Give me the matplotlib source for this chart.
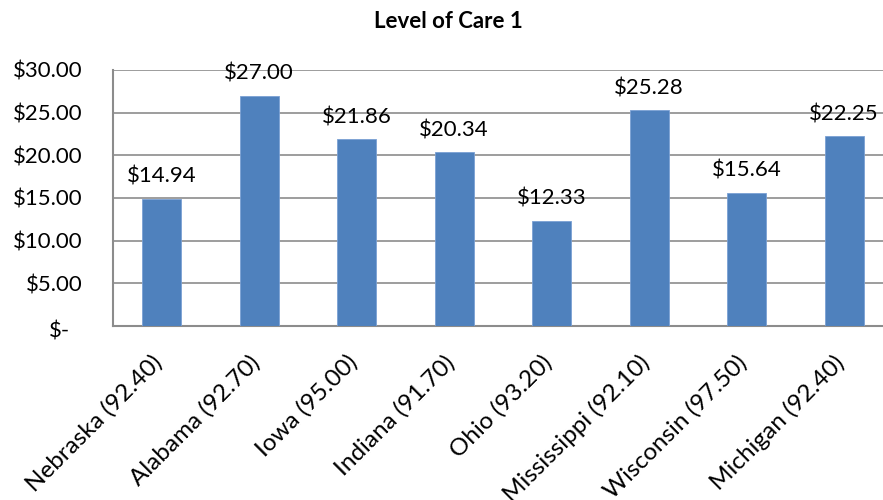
import matplotlib
matplotlib.use("Agg")
import matplotlib.pyplot as plt
from matplotlib.transforms import ScaledTranslation

categories = ["Nebraska (92.40)", "Alabama (92.70)", "Iowa (95.00)", "Indiana (91.70)",
              "Ohio (93.20)", "Mississippi (92.10)", "Wisconsin (97.50)", "Michigan (92.40)"]
values = [14.94, 27.00, 21.86, 20.34, 12.33, 25.28, 15.64, 22.25]
yticks = [0, 5, 10, 15, 20, 25, 30]
ytick_labels = ["$-", "$5.00", "$10.00", "$15.00", "$20.00", "$25.00", "$30.00"]
title = "Level of Care 1"

plt.rcParams['font.family'] = ['Lato', 'DejaVu Sans']

fig = plt.figure(figsize=(8.83, 5.0), dpi=100)
ax = fig.add_axes([113/883, 174/500, 780/883, 256/500])

x = list(range(len(categories)))
ax.bar(x, values, width=0.4, color='#4F81BD', edgecolor='#7aa0d4', linewidth=0.6, zorder=3)
ax.set_xlim(-0.5, len(categories) - 0.5)
ax.set_ylim(0, 30)
ax.set_yticks(yticks)
ax.set_yticklabels(ytick_labels, fontsize=16)
ax.yaxis.grid(True, color='#8c8c8c', linewidth=1.2, zorder=0)
ax.set_axisbelow(True)
ax.tick_params(axis='y', length=0, pad=22)
ax.tick_params(axis='x', length=0, pad=8)

zero_lbl = ax.get_yticklabels()[0]
zero_lbl.set_transform(zero_lbl.get_transform() + ScaledTranslation(-0.12, -0.04, fig.dpi_scale_trans))

ax.set_xticks(x)
ax.set_xticklabels(categories, rotation=45, ha='right', va='center', rotation_mode='anchor', fontsize=17.5)
for lbl in ax.get_xticklabels():
    lbl.set_transform(lbl.get_transform() + ScaledTranslation(-0.03, -0.22, fig.dpi_scale_trans))

for s in ['top', 'right']:
    ax.spines[s].set_visible(False)
for s in ['left', 'bottom']:
    ax.spines[s].set_color('#8c8c8c')
    ax.spines[s].set_linewidth(1.5)

for xi, v in zip(x, values):
    ax.annotate(f"${v:.2f}", (xi, v), xytext=(0, 12), textcoords='offset pixels',
                ha='center', va='bottom', fontsize=16, color='black', zorder=4,
                annotation_clip=False)

fig.text(448/883, 1 - 22/500, title, ha='center', va='center', fontsize=16, fontweight='bold')

fig.savefig("out.png", dpi=100)
